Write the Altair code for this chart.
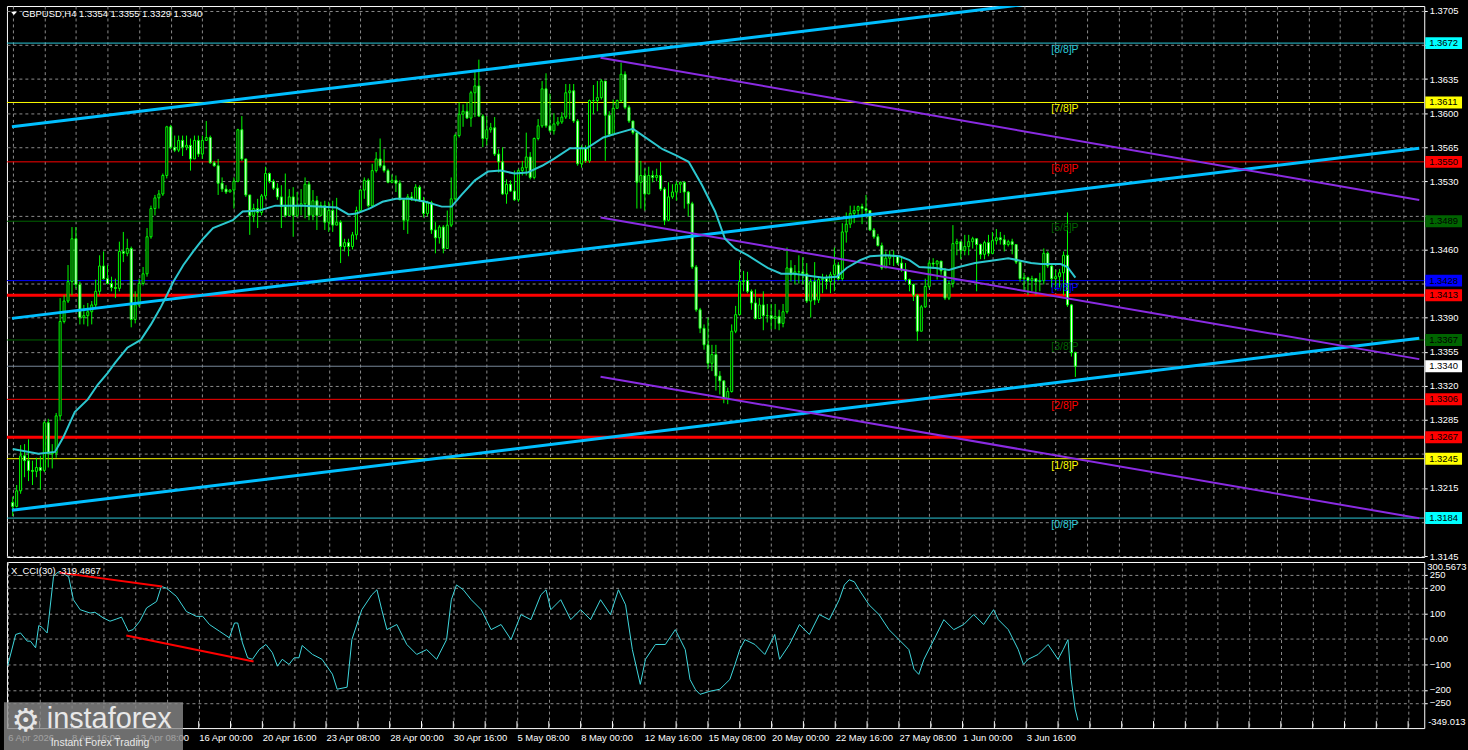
import altair as alt
import pandas as pd

# ---------------- data ----------------
OPEN = [
1.3200,1.3196,1.3212,1.3248,1.3243,1.3233,1.3232,1.3236,1.3233,1.3282,
1.3250,1.3251,1.3289,1.3386,1.3407,1.3427,1.3471,1.3424,1.3390,1.3392,
1.3396,1.3403,1.3417,1.3443,1.3430,1.3425,1.3421,1.3420,1.3458,1.3456,
1.3461,1.3388,1.3403,1.3425,1.3435,1.3473,1.3502,1.3513,1.3517,1.3536,
1.3586,1.3565,1.3562,1.3572,1.3565,1.3567,1.3553,1.3572,1.3558,1.3572,
1.3575,1.3549,1.3546,1.3528,1.3522,1.3519,1.3521,1.3530,1.3583,1.3553,
1.3516,1.3495,1.3502,1.3498,1.3515,1.3538,1.3530,1.3523,1.3514,1.3504,
1.3495,1.3514,1.3495,1.3505,1.3507,1.3527,1.3495,1.3510,1.3495,1.3505,
1.3488,1.3500,1.3485,1.3488,1.3463,1.3467,1.3463,1.3475,1.3500,1.3521,
1.3531,1.3505,1.3541,1.3553,1.3546,1.3541,1.3529,1.3531,1.3528,1.3511,
1.3490,1.3514,1.3511,1.3524,1.3510,1.3497,1.3508,1.3480,1.3472,1.3483,
1.3461,1.3485,1.3512,1.3577,1.3599,1.3602,1.3595,1.3621,1.3628,1.3597,
1.3574,1.3583,1.3585,1.3558,1.3550,1.3517,1.3527,1.3520,1.3511,1.3541,
1.3544,1.3555,1.3534,1.3574,1.3587,1.3625,1.3587,1.3582,1.3589,1.3591,
1.3596,1.3621,1.3623,1.3592,1.3548,1.3564,1.3551,1.3613,1.3613,1.3616,
1.3633,1.3598,1.3578,1.3605,1.3613,1.3640,1.3606,1.3592,1.3580,1.3529,
1.3536,1.3517,1.3536,1.3534,1.3536,1.3522,1.3490,1.3514,1.3519,1.3527,
1.3529,1.3519,1.3507,1.3442,1.3398,1.3379,1.3362,1.3343,1.3352,1.3330,
1.3325,1.3307,1.3314,1.3376,1.3393,1.3427,1.3428,1.3417,1.3405,1.3389,
1.3403,1.3392,1.3392,1.3389,1.3391,1.3384,1.3396,1.3441,1.3434,1.3437,
1.3437,1.3435,1.3407,1.3427,1.3408,1.3429,1.3430,1.3427,1.3434,1.3444,
1.3430,1.3478,1.3486,1.3497,1.3500,1.3504,1.3502,1.3500,1.3480,1.3473,
1.3464,1.3441,1.3451,1.3454,1.3453,1.3446,1.3439,1.3429,1.3424,1.3413,
1.3376,1.3401,1.3422,1.3446,1.3445,1.3448,1.3438,1.3410,1.3425,1.3466,
1.3468,1.3459,1.3463,1.3468,1.3471,1.3465,1.3455,1.3467,1.3456,1.3469,
1.3472,1.3470,1.3465,1.3468,1.3465,1.3447,1.3430,1.3431,1.3428,1.3430,
1.3427,1.3428,1.3456,1.3443,1.3430,1.3432,1.3436,1.3454,1.3403,1.3354]
HIGH = [
1.3206,1.3218,1.3259,1.3260,1.3265,1.3243,1.3246,1.3248,1.3284,1.3286,
1.3260,1.3292,1.3410,1.3413,1.3444,1.3483,1.3483,1.3427,1.3403,1.3405,
1.3407,1.3429,1.3454,1.3458,1.3444,1.3432,1.3430,1.3468,1.3478,1.3471,
1.3463,1.3417,1.3430,1.3442,1.3482,1.3505,1.3516,1.3521,1.3538,1.3587,
1.3588,1.3577,1.3577,1.3577,1.3577,1.3574,1.3577,1.3577,1.3577,1.3592,
1.3577,1.3551,1.3553,1.3534,1.3526,1.3522,1.3534,1.3584,1.3597,1.3553,
1.3516,1.3507,1.3512,1.3517,1.3545,1.3539,1.3532,1.3528,1.3526,1.3538,
1.3522,1.3524,1.3519,1.3522,1.3534,1.3530,1.3521,1.3515,1.3509,1.3510,
1.3509,1.3510,1.3513,1.3490,1.3471,1.3471,1.3478,1.3504,1.3522,1.3534,
1.3533,1.3548,1.3560,1.3574,1.3563,1.3543,1.3537,1.3536,1.3531,1.3511,
1.3517,1.3519,1.3527,1.3526,1.3514,1.3510,1.3510,1.3488,1.3485,1.3485,
1.3500,1.3534,1.3579,1.3611,1.3609,1.3611,1.3623,1.3643,1.3655,1.3599,
1.3597,1.3590,1.3596,1.3563,1.3565,1.3532,1.3531,1.3541,1.3543,1.3551,
1.3580,1.3560,1.3575,1.3594,1.3633,1.3641,1.3620,1.3600,1.3596,1.3601,
1.3630,1.3630,1.3630,1.3594,1.3567,1.3567,1.3614,1.3629,1.3633,1.3635,
1.3633,1.3602,1.3614,1.3614,1.3652,1.3643,1.3608,1.3592,1.3582,1.3551,
1.3543,1.3545,1.3541,1.3543,1.3550,1.3524,1.3529,1.3527,1.3530,1.3530,
1.3530,1.3520,1.3509,1.3444,1.3400,1.3383,1.3390,1.3362,1.3362,1.3335,
1.3325,1.3318,1.3383,1.3402,1.3449,1.3438,1.3437,1.3419,1.3419,1.3410,
1.3417,1.3404,1.3404,1.3404,1.3398,1.3404,1.3462,1.3449,1.3444,1.3454,
1.3452,1.3446,1.3430,1.3447,1.3432,1.3435,1.3434,1.3437,1.3462,1.3447,
1.3487,1.3498,1.3505,1.3505,1.3505,1.3507,1.3516,1.3500,1.3482,1.3476,
1.3467,1.3458,1.3459,1.3459,1.3454,1.3453,1.3446,1.3430,1.3425,1.3414,
1.3403,1.3430,1.3449,1.3451,1.3449,1.3448,1.3441,1.3428,1.3485,1.3471,
1.3468,1.3475,1.3475,1.3473,1.3471,1.3466,1.3469,1.3475,1.3478,1.3481,
1.3478,1.3475,1.3470,1.3471,1.3465,1.3449,1.3436,1.3432,1.3433,1.3430,
1.3436,1.3461,1.3458,1.3446,1.3439,1.3440,1.3458,1.3498,1.3404,1.3355]
LOW = [
1.3186,1.3195,1.3209,1.3226,1.3222,1.3218,1.3226,1.3213,1.3231,1.3236,
1.3235,1.3246,1.3284,1.3384,1.3405,1.3413,1.3420,1.3383,1.3383,1.3381,
1.3383,1.3400,1.3413,1.3429,1.3424,1.3417,1.3410,1.3417,1.3447,1.3453,
1.3380,1.3384,1.3401,1.3423,1.3432,1.3471,1.3495,1.3502,1.3515,1.3533,
1.3563,1.3560,1.3560,1.3556,1.3562,1.3541,1.3553,1.3555,1.3553,1.3572,
1.3548,1.3545,1.3516,1.3519,1.3517,1.3519,1.3502,1.3529,1.3551,1.3514,
1.3475,1.3488,1.3482,1.3495,1.3512,1.3528,1.3521,1.3511,1.3482,1.3493,
1.3495,1.3473,1.3493,1.3495,1.3492,1.3490,1.3490,1.3480,1.3494,1.3480,
1.3478,1.3478,1.3485,1.3446,1.3458,1.3453,1.3460,1.3470,1.3498,1.3512,
1.3503,1.3503,1.3539,1.3544,1.3539,1.3528,1.3528,1.3519,1.3511,1.3480,
1.3476,1.3510,1.3509,1.3509,1.3493,1.3494,1.3476,1.3456,1.3466,1.3456,
1.3461,1.3483,1.3510,1.3575,1.3586,1.3594,1.3586,1.3596,1.3596,1.3565,
1.3567,1.3580,1.3556,1.3539,1.3516,1.3507,1.3519,1.3510,1.3509,1.3536,
1.3536,1.3532,1.3532,1.3572,1.3585,1.3585,1.3580,1.3578,1.3587,1.3589,
1.3594,1.3594,1.3590,1.3546,1.3544,1.3549,1.3549,1.3599,1.3602,1.3614,
1.3551,1.3576,1.3577,1.3605,1.3611,1.3604,1.3590,1.3578,1.3502,1.3502,
1.3500,1.3517,1.3529,1.3530,1.3520,1.3485,1.3489,1.3512,1.3510,1.3518,
1.3502,1.3494,1.3440,1.3396,1.3374,1.3357,1.3337,1.3335,1.3315,1.3311,
1.3302,1.3301,1.3313,1.3374,1.3392,1.3417,1.3415,1.3398,1.3388,1.3389,
1.3377,1.3385,1.3378,1.3378,1.3377,1.3380,1.3394,1.3427,1.3424,1.3425,
1.3424,1.3405,1.3390,1.3403,1.3405,1.3415,1.3419,1.3415,1.3417,1.3428,
1.3428,1.3467,1.3482,1.3487,1.3495,1.3486,1.3493,1.3479,1.3471,1.3463,
1.3439,1.3441,1.3444,1.3443,1.3444,1.3437,1.3427,1.3417,1.3407,1.3366,
1.3376,1.3400,1.3420,1.3440,1.3429,1.3434,1.3408,1.3408,1.3421,1.3454,
1.3450,1.3454,1.3454,1.3461,1.3417,1.3450,1.3450,1.3453,1.3455,1.3465,
1.3465,1.3458,1.3463,1.3455,1.3445,1.3427,1.3417,1.3413,1.3417,1.3413,
1.3417,1.3424,1.3441,1.3421,1.3418,1.3421,1.3413,1.3401,1.3350,1.3329]
CLOSE = [
1.3196,1.3212,1.3248,1.3243,1.3233,1.3232,1.3236,1.3233,1.3282,1.3250,
1.3251,1.3289,1.3386,1.3407,1.3427,1.3471,1.3424,1.3390,1.3392,1.3396,
1.3403,1.3417,1.3443,1.3430,1.3425,1.3421,1.3420,1.3458,1.3456,1.3461,
1.3388,1.3403,1.3425,1.3435,1.3473,1.3502,1.3513,1.3517,1.3536,1.3586,
1.3565,1.3562,1.3572,1.3565,1.3567,1.3553,1.3572,1.3558,1.3572,1.3575,
1.3549,1.3546,1.3528,1.3522,1.3519,1.3521,1.3530,1.3583,1.3553,1.3516,
1.3495,1.3502,1.3498,1.3515,1.3538,1.3530,1.3523,1.3514,1.3504,1.3495,
1.3514,1.3495,1.3505,1.3507,1.3527,1.3495,1.3510,1.3495,1.3505,1.3488,
1.3500,1.3485,1.3488,1.3463,1.3467,1.3463,1.3475,1.3500,1.3521,1.3531,
1.3505,1.3541,1.3553,1.3546,1.3541,1.3529,1.3531,1.3528,1.3511,1.3490,
1.3514,1.3511,1.3524,1.3510,1.3497,1.3508,1.3480,1.3472,1.3483,1.3461,
1.3485,1.3512,1.3577,1.3599,1.3602,1.3595,1.3621,1.3628,1.3597,1.3574,
1.3583,1.3585,1.3558,1.3550,1.3517,1.3527,1.3520,1.3511,1.3541,1.3544,
1.3555,1.3534,1.3574,1.3587,1.3625,1.3587,1.3582,1.3589,1.3591,1.3596,
1.3621,1.3623,1.3592,1.3548,1.3564,1.3551,1.3613,1.3613,1.3616,1.3633,
1.3598,1.3578,1.3605,1.3613,1.3640,1.3606,1.3592,1.3580,1.3529,1.3536,
1.3517,1.3536,1.3534,1.3536,1.3522,1.3490,1.3514,1.3519,1.3527,1.3529,
1.3519,1.3507,1.3442,1.3398,1.3379,1.3362,1.3343,1.3352,1.3330,1.3325,
1.3307,1.3314,1.3376,1.3393,1.3427,1.3428,1.3417,1.3405,1.3389,1.3403,
1.3392,1.3392,1.3389,1.3391,1.3384,1.3396,1.3441,1.3434,1.3437,1.3437,
1.3435,1.3407,1.3427,1.3408,1.3429,1.3430,1.3427,1.3434,1.3444,1.3430,
1.3478,1.3486,1.3497,1.3500,1.3504,1.3502,1.3500,1.3480,1.3473,1.3464,
1.3441,1.3451,1.3454,1.3453,1.3446,1.3439,1.3429,1.3424,1.3413,1.3376,
1.3401,1.3422,1.3446,1.3445,1.3448,1.3438,1.3410,1.3425,1.3466,1.3468,
1.3459,1.3463,1.3468,1.3471,1.3465,1.3455,1.3467,1.3456,1.3469,1.3472,
1.3470,1.3465,1.3468,1.3465,1.3447,1.3430,1.3431,1.3428,1.3430,1.3427,
1.3428,1.3456,1.3443,1.3430,1.3432,1.3436,1.3454,1.3403,1.3354,1.3340]

# moving average (bar index, value)
MA_BAR = [0, 6.5, 10.7, 12.8, 15.7, 19, 21.5, 24, 26, 29,
          32.4, 35, 37.4, 39, 40.7, 43.2, 45.7, 48.2, 50.7, 55.7,
          58.2, 62.4, 66.5, 73.6, 82, 85, 87, 90.3, 93.6, 97,
          100.3, 104.5, 108.6, 111.1, 113.6, 117, 120.3, 123.6, 127, 130.3,
          134, 137, 141.1, 145.3, 149.5, 153.6, 157, 159.5, 164.5, 167.8,
          171.1, 174.5, 177.8, 180.3, 182.8, 186.1, 191.1, 194.5, 197.8, 201.5,
          205.3, 208.6, 211.1, 214.5, 217, 221.1, 224.5, 227, 229.5, 233.6,
          237, 239.5, 243.6, 248.6, 252, 254.5, 257.8, 260.3, 265.3, 267, 269]
MA_VAL = [1.3255, 1.3250, 1.3252, 1.3267, 1.3293, 1.3306, 1.3321, 1.3333, 1.3344, 1.3359,
          1.3367, 1.3383, 1.3400, 1.3413, 1.3427, 1.3444, 1.3458, 1.3471, 1.3482, 1.3490,
          1.3499, 1.3500, 1.3505, 1.3505, 1.3503, 1.3496, 1.3497, 1.3502, 1.3509, 1.3512,
          1.3512, 1.3509, 1.3504, 1.3504, 1.3516, 1.3531, 1.3540, 1.3541, 1.3538, 1.3539,
          1.3546, 1.3553, 1.3564, 1.3564, 1.3575, 1.3580, 1.3584, 1.3577, 1.3563, 1.3557,
          1.3550, 1.3526, 1.3499, 1.3471, 1.3461, 1.3454, 1.3441, 1.3435, 1.3435, 1.3433,
          1.3431, 1.3432, 1.3441, 1.3449, 1.3453, 1.3454, 1.3453, 1.3449, 1.3442, 1.3441,
          1.3439, 1.3442, 1.3446, 1.3449, 1.3451, 1.3449, 1.3446, 1.3445, 1.3445, 1.3442, 1.3431]

# CCI(30) (bar index, value)
CCI_BAR = [0, 2, 3.2, 4.9, 5.7, 7, 7.8, 8.6, 9.9, 10.3, 11.5, 12.4, 14, 15.3, 16.5, 18.2, 20.7, 21.9,
           24, 25.7, 27.4, 28.6, 29.5, 30.3, 31.5, 33.2, 34.9, 37.4, 38.6, 39.9, 42.4, 44.9, 47.4, 49,
           50.7, 53.2, 55.7, 57, 57.8, 59, 60.3, 61.5, 63.2, 64.9, 66.5, 67.8, 69, 70.7, 72, 73.2, 74,
           76.6, 79, 81.6, 82.8, 85.3, 86.5, 89, 91.5, 92.8, 94, 95.3, 97.8, 100.3, 102.8, 105.3, 107.8,
           110.3, 111.5, 112.8, 114.5, 116.5, 119, 121.5, 124, 126.5, 129, 131.5, 134, 135.3, 136.5, 139,
           141.5, 144, 146.5, 149, 151.5, 153.5, 155.3, 157, 159, 160.3, 162.8, 165.3, 167.8, 170.3, 171.5,
           172.8, 174, 176.5, 179, 181.5, 182.8, 184, 185.3, 187.8, 190.3, 192.8, 194, 196.5, 199, 201.5,
           204, 206.5, 209, 210.3, 211.5, 212.8, 214, 216.5, 219, 221.5, 224, 226.5, 227.8, 229, 230.3,
           232.8, 235.3, 237.8, 240.3, 242.8, 245.3, 247.8, 249, 251.5, 254, 255.3, 256.5, 259, 261.5,
           264, 265.3, 266.5, 267.3, 268.3, 269]
CCI_VAL = [-104, 17, 23, -9, -9, -35, 52, 45, 23, 75, 243, 259, 255, 243, 153, 114, 101, 104,
           82, 69, 78, 85, 56, 30, 36, 69, 121, 146, 205, 198, 166, 107, 88, 88,
           56, 30, 4, 62, 62, -16, -74, -80, -42, -22, -54, -107, -80, -100, -74, -74, -26,
           -61, -80, -138, -197, -189, -3, 114, 172, 192, 114, 36, 56, -22, -61, -42, -80,
           -3, 153, 211, 192, 153, 114, 36, 56, -3, 95, 75, 172, 192, 114, 153,
           75, 114, 75, 153, 95, 192, 133, -42, -178, -80, -22, -22, 36, -42, -159,
           -197, -217, -205, -197, -159, -100, -42, -3, -22, -61, 17, -80, -22, 56, 17,
           95, 75, 153, 211, 231, 223, 192, 133, 95, 36, -3, -42, -119, -139, -80,
           -3, 75, 36, 56, 95, 56, 114, 75, 36, -42, -100, -80, -61, -22,
           -80, -42, -3, -159, -275, -319]

# Murrey levels and right-scale price tags
LEVEL_KEY = ["8/8", "7/8", "6/8", "5/8", "4/8", "R1", "3/8", "bid", "2/8", "R2", "1/8", "0/8"]
LEVEL_PRICE = [1.3672, 1.3611, 1.3550, 1.3489, 1.3428, 1.3413, 1.3367, 1.3340, 1.3306, 1.3267, 1.3245, 1.3184]
TAG_KEY = ["8/8", "7/8", "6/8", "5/8", "4/8", "3/8", "2/8", "1/8", "0/8"]
TAG_PRICE = [1.3672, 1.3611, 1.3550, 1.3489, 1.3428, 1.3367, 1.3306, 1.3245, 1.3184]
TAG_TEXT = ["[8/8]P", "[7/8]P", "[6/8]P", "[5/8]P", "[4/8]P", "[3/8]P", "[2/8]P", "[1/8]P", "[0/8]P"]

# trend channels (bar index endpoints, prices)
CH_BAR = [-0.2, 356.05]
CH_UP = [1.35860, 1.37607]
CH_MID = [1.33892, 1.35640]
CH_LOW = [1.31920, 1.33688]
PU_BAR = [148.8, 356.05]
PU_TOP = [1.36570, 1.35108]
PU_MID = [1.34928, 1.33473]
PU_LOW = [1.33293, 1.31838]

# CCI divergence lines
DIV1_BAR = [13.05, 38.8]
DIV1_VAL = [259, 204.6]
DIV2_BAR = [29.8, 61.8]
DIV2_VAL = [12.8, -88.3]

PRICE_TICKS = [1.3145, 1.3180, 1.3215, 1.3250, 1.3285, 1.3320, 1.3355, 1.3390, 1.3425,
               1.3460, 1.3495, 1.3530, 1.3565, 1.3600, 1.3635, 1.3670, 1.3705]
HIDDEN_TICKS = ["1.3670", "1.3495", "1.3425", "1.3250", "1.3180"]   # covered by price tags
CCI_TICKS = [250, 200, 100, 0, -100, -200, -250]
XLAB = ["6 Apr 2026", "8 Apr 16:00", "13 Apr 08:00", "16 Apr 00:00", "20 Apr 16:00",
        "23 Apr 08:00", "28 Apr 00:00", "30 Apr 16:00", "5 May 08:00", "8 May 00:00",
        "12 May 16:00", "15 May 08:00", "20 May 00:00", "22 May 16:00", "27 May 08:00",
        "1 Jun 00:00", "3 Jun 16:00"]
XGRID = list(range(0, 353, 8))
TITLE = "GBPUSD,H4  1.3354 1.3355 1.3329 1.3340"
CCI_TITLE = "X_CCI(30) -319.4867"
CCI_MAX = "300.5673"
CCI_MIN = "-349.013"

# ---------------- styling ----------------
W, HM, HC = 1425, 554, 167
FONT = "Liberation Sans"
FS = 9.5
GRID = "#8c8c8c"
LIME = "#00FF00"
XS = alt.Scale(domain=[-0.2, 356.05], nice=False, zero=False)
YS = alt.Scale(domain=[1.31440, 1.37101], nice=False, zero=False)
CS = alt.Scale(domain=[-349.013, 300.5673], nice=False, zero=False)
LINE_COL = alt.Scale(domain=LEVEL_KEY, range=["#2BC9D9", "#FFFF00", "#FF0000", "#006400", "#0000FF", "#FF0000",
                                             "#006400", "#778899", "#FF0000", "#FF0000", "#FFFF00", "#2BC9D9"])
BOX_COL = alt.Scale(domain=LEVEL_KEY, range=["#00FFFF", "#FFFF00", "#FF0000", "#006400", "#0000FF", "#FF0000",
                                            "#006400", "#FFFFFF", "#FF0000", "#FF0000", "#FFFF00", "#00FFFF"])
HALF = 6.0 / (HM / (1.37101 - 1.31440))

bars = pd.DataFrame({"i": list(range(len(CLOSE))), "o": OPEN, "h": HIGH, "l": LOW, "c": CLOSE})
bars["h"] = bars[["o", "h", "c"]].max(axis=1)
bars["l"] = bars[["o", "l", "c"]].min(axis=1)
bars["dir"] = ["up" if c >= o else "down" for o, c in zip(OPEN, CLOSE)]
levels = pd.DataFrame({"k": LEVEL_KEY, "p": LEVEL_PRICE})
tags = pd.DataFrame({"k": TAG_KEY, "p": TAG_PRICE, "t": TAG_TEXT})

# axes (the same object is given to every layer so that they merge cleanly)
hid = "[" + ",".join("'%s'" % s for s in HIDDEN_TICKS) + "]"
X_MAIN_AX = alt.Axis(values=XGRID, labels=False, ticks=False, domain=False, grid=True,
                     gridColor=GRID, gridDash=[3, 3], gridWidth=1, title=None, zindex=0)
Y_MAIN_AX = alt.Axis(orient="right", values=PRICE_TICKS,
                     labelExpr=f"indexof({hid}, format(datum.value, '.4f')) >= 0 ? '' : format(datum.value, '.4f')",
                     labelColor="white",
                     labelFont=FONT, labelFontSize=FS, tickColor="white", tickSize=3, labelPadding=2,
                     domain=False, grid=True, gridColor=GRID, gridDash=[3, 3], gridWidth=1,
                     title=None, zindex=0, labelOverlap=False, labelBound=False, labelFlush=False)
arr = "[" + ",".join("'%s'" % s for s in XLAB) + "]"
X_CCI_AX = alt.Axis(values=XGRID,
                    labelExpr=f"(datum.value % 16 == 0 && datum.value <= 256) ? {arr}[datum.value / 16] : ''",
                    ticks=False, domain=False, grid=True, gridColor=GRID, gridDash=[3, 3], gridWidth=1,
                    labelColor="white", labelFont=FONT, labelFontSize=FS, labelAlign="left",
                    labelBaseline="top", labelPadding=4, labelOverlap=False, labelBound=False,
                    labelFlush=False, title=None, zindex=0)
Y_CCI_AX = alt.Axis(orient="right", values=CCI_TICKS,
                    labelExpr="datum.value == 0 ? '0.00' : format(datum.value, 'd')",
                    labelColor="white", labelFont=FONT, labelFontSize=FS, tickColor="white", tickSize=3,
                    labelPadding=2, domain=False, grid=True, gridColor=GRID, gridDash=[3, 3], gridWidth=1,
                    title=None, zindex=0, labelOverlap=False, labelBound=False, labelFlush=False)


def xm(field):
    return alt.X(field, type="quantitative", scale=XS, axis=X_MAIN_AX)


def ym(field):
    return alt.Y(field, type="quantitative", scale=YS, axis=Y_MAIN_AX)


def xc(field):
    return alt.X(field, type="quantitative", scale=XS, axis=X_CCI_AX)


def yc(field):
    return alt.Y(field, type="quantitative", scale=CS, axis=Y_CCI_AX)


def two_pt(bx, vals, color, width, xf, yf):
    df = pd.DataFrame({"b": bx, "v": vals})
    return alt.Chart(df).mark_line(color=color, strokeWidth=width, clip=True).encode(x=xf("b"), y=yf("v"))


thin = alt.Chart(levels).transform_filter("datum.k != 'R1' && datum.k != 'R2'").mark_rule(strokeWidth=1).encode(
    y=ym("p"), color=alt.Color("k:N", scale=LINE_COL, legend=None))
thick = alt.Chart(levels).transform_filter("datum.k == 'R1' || datum.k == 'R2'").mark_rule(strokeWidth=3).encode(
    y=ym("p"), color=alt.Color("k:N", scale=LINE_COL, legend=None))

wick = alt.Chart(bars).mark_rule(color=LIME, strokeWidth=1, clip=True).encode(
    x=xm("i"), y=ym("l"), y2="h")
body = alt.Chart(bars).mark_bar(size=2, stroke=LIME, strokeWidth=1, clip=True).encode(
    x=xm("i"), y=ym("o"), y2="c",
    fill=alt.Fill("dir:N", scale=alt.Scale(domain=["up", "down"], range=["black", "white"]), legend=None))

ma = alt.Chart(pd.DataFrame({"b": MA_BAR, "v": MA_VAL})).mark_line(
    color="#2CC7CF", strokeWidth=2, clip=True).encode(x=xm("b"), y=ym("v"))

blue1 = two_pt(CH_BAR, CH_UP, "#00BFFF", 3, xm, ym)
blue2 = two_pt(CH_BAR, CH_MID, "#00BFFF", 3, xm, ym)
blue3 = two_pt(CH_BAR, CH_LOW, "#00BFFF", 3, xm, ym)
pur1 = two_pt(PU_BAR, PU_TOP, "#8A2BE2", 2, xm, ym)
pur2 = two_pt(PU_BAR, PU_MID, "#8A2BE2", 2, xm, ym)
pur3 = two_pt(PU_BAR, PU_LOW, "#8A2BE2", 2, xm, ym)

tag_txt = alt.Chart(tags).mark_text(align="left", baseline="top", dy=2, font=FONT, fontSize=10.5).encode(
    x=alt.value(1050), y=ym("p"), text="t:N", color=alt.Color("k:N", scale=LINE_COL, legend=None))

boxes = alt.Chart(levels).transform_calculate(
    lo=f"datum.p - {HALF}", hi=f"datum.p + {HALF}").mark_rect(clip=False).encode(
    x=alt.value(W + 1), x2=alt.value(W + 38), y=ym("lo:Q"), y2="hi:Q",
    fill=alt.Fill("k:N", scale=BOX_COL, legend=None))
box_txt = alt.Chart(levels).mark_text(align="left", baseline="middle", font=FONT, fontSize=FS,
                                      color="black", clip=False).encode(
    x=alt.value(W + 5), y=ym("p"), text=alt.Text("p:Q", format=".4f"))

title = alt.Chart(pd.DataFrame({"t": [TITLE]})).mark_text(
    align="left", baseline="middle", font=FONT, fontSize=9.5, color="white").encode(
    x=alt.value(15), y=alt.value(8), text="t:N")
tri = alt.Chart(pd.DataFrame({"t": [TITLE]})).mark_point(
    shape="M-1,-0.55L1,-0.55L0,0.55Z", filled=True, color="white", opacity=1, size=36).encode(
    x=alt.value(7), y=alt.value(7.5))

main = alt.layer(thin, thick, wick, body, blue1, blue2, blue3, pur1, pur2, pur3, ma,
                 tag_txt, boxes, box_txt, title, tri).resolve_scale(
    color="independent", fill="independent").properties(width=W, height=HM)

# ---------------- CCI panel ----------------
cci_line = alt.Chart(pd.DataFrame({"b": CCI_BAR, "v": CCI_VAL})).mark_line(
    color="#3FD8DE", strokeWidth=1, clip=True).encode(x=xc("b"), y=yc("v"))
div1 = two_pt(DIV1_BAR, DIV1_VAL, "#FF0000", 2, xc, yc)
div2 = two_pt(DIV2_BAR, DIV2_VAL, "#FF0000", 2, xc, yc)
ticks = alt.Chart(pd.DataFrame({"b": XGRID})).mark_rule(color="white", strokeWidth=1).encode(
    x=xc("b"), y=alt.value(HC - 7), y2=alt.value(HC))

cci_texts = alt.Chart(pd.DataFrame({"t": [CCI_TITLE]})).mark_text(
    align="left", baseline="middle", font=FONT, fontSize=9.5, color="white").encode(
    x=alt.value(4), y=alt.value(9), text="t:N")
cci_max = alt.Chart(pd.DataFrame({"t": [CCI_MAX]})).mark_text(
    align="left", baseline="middle", font=FONT, fontSize=FS, color="white", clip=False).encode(
    x=alt.value(W + 3), y=alt.value(5), text="t:N")
cci_min = alt.Chart(pd.DataFrame({"t": [CCI_MIN]})).mark_text(
    align="left", baseline="middle", font=FONT, fontSize=FS, color="white", clip=False).encode(
    x=alt.value(W + 4), y=alt.value(161), text="t:N")

logo_bg = alt.Chart(pd.DataFrame({"t": ["logo"]})).mark_rect(
    color="#8a8a8a", opacity=0.8, clip=False).encode(
    x=alt.value(-3), x2=alt.value(177), y=alt.value(141), y2=alt.value(190))
logo_icon = alt.Chart(pd.DataFrame({"t": ["\u2699"]})).mark_text(
    align="center", baseline="middle", font="DejaVu Sans", fontSize=32, color="#e6e6e6", clip=False).encode(
    x=alt.value(19), y=alt.value(160), text="t:N")
logo_name = alt.Chart(pd.DataFrame({"t": ["instaforex"]})).mark_text(
    align="left", baseline="alphabetic", font=FONT, fontSize=29, color="#e8e8e8", clip=False).encode(
    x=alt.value(40), y=alt.value(167), text="t:N")
logo_sub = alt.Chart(pd.DataFrame({"t": ["Instant Forex Trading"]})).mark_text(
    align="left", baseline="middle", font=FONT, fontSize=10.5, color="#e8e8e8", clip=False).encode(
    x=alt.value(44), y=alt.value(182), text="t:N")

cci = alt.layer(cci_line, div1, div2, ticks, cci_texts, cci_max, cci_min,
                logo_bg, logo_icon, logo_name, logo_sub).properties(width=W, height=HC)

chart = alt.vconcat(main, cci, spacing=5, bounds="flush").properties(
    padding={"left": 3, "top": 3, "right": 0, "bottom": 0},
    background="black",
).configure_view(stroke="white", strokeWidth=1)

chart.save("out.html", embed_options={"renderer": "svg", "actions": False})
